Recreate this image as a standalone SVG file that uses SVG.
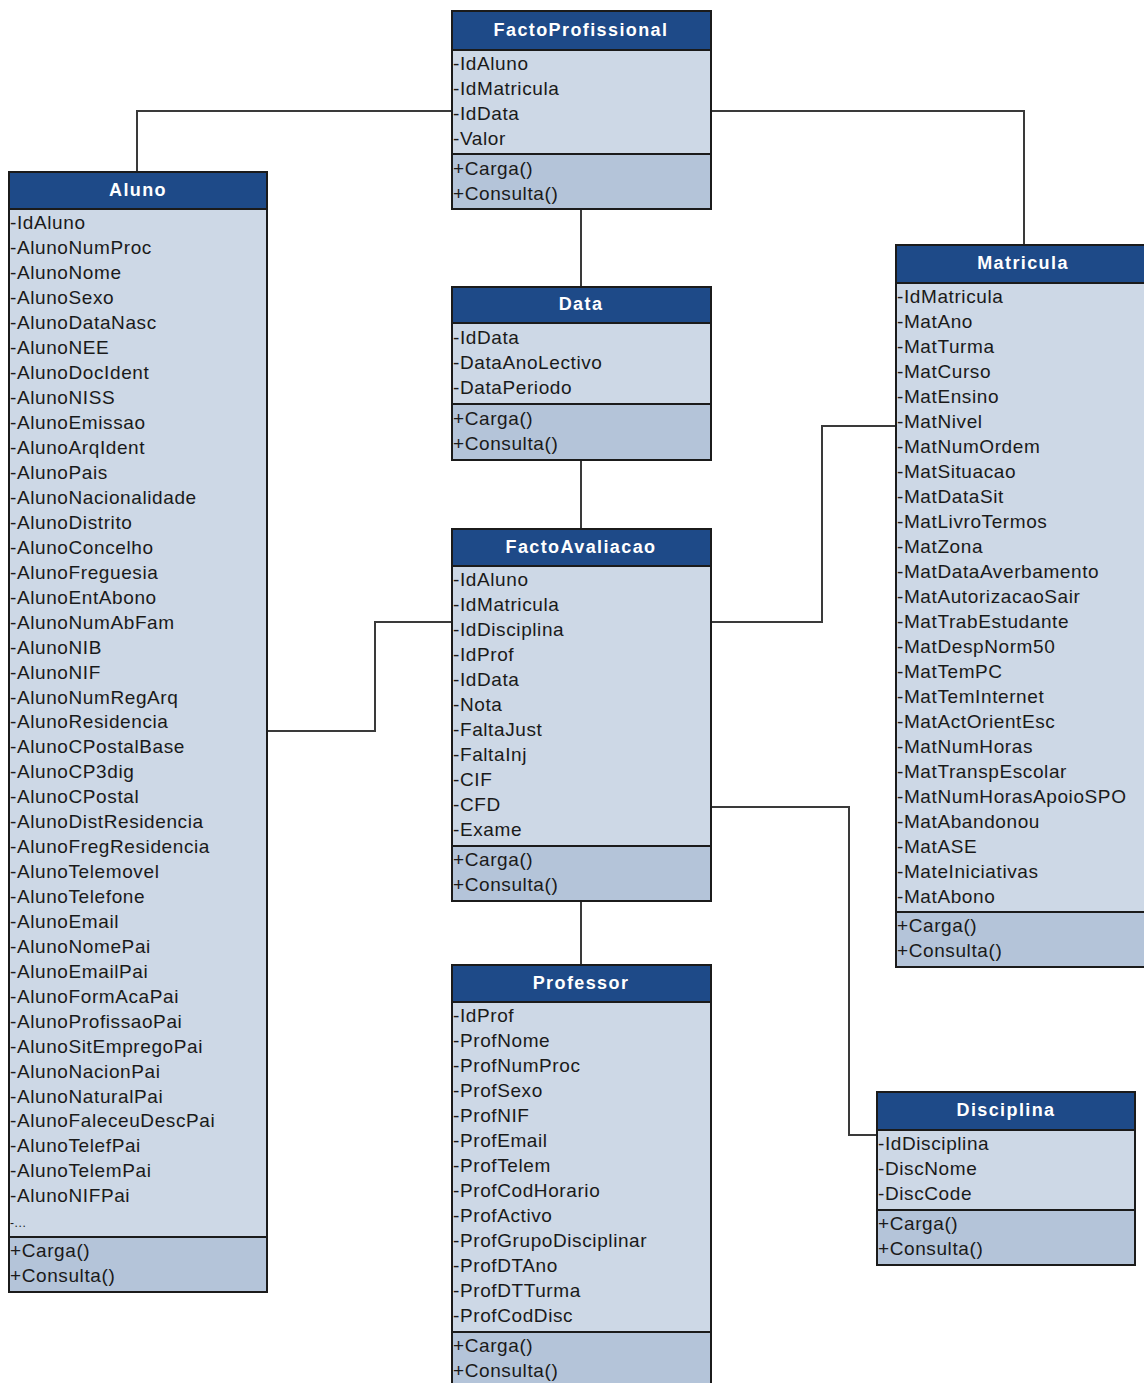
<svg xmlns="http://www.w3.org/2000/svg" width="1144" height="1383" viewBox="0 0 1144 1383">
<style>
  .hdr { fill: #1e4a88; stroke: #1b1b1b; stroke-width: 2; }
  .att { fill: #cdd8e6; stroke: #1b1b1b; stroke-width: 2; }
  .mth { fill: #b4c4d9; stroke: #1b1b1b; stroke-width: 2; }
  .ttl { font-family: "Liberation Sans", Arial, sans-serif; font-size: 18px; font-weight: bold; fill: #ffffff; text-anchor: middle; letter-spacing: 1.4px; }
  .row { font-family: "Liberation Sans", Arial, sans-serif; font-size: 19px; fill: #1a1a1a; letter-spacing: 0.6px; }
  .wire { fill: none; stroke: #3a3a3a; stroke-width: 2; }
</style>
<rect width="1144" height="1383" fill="#ffffff"/>

<!-- relationship lines -->
<g id="connectors">
  <polyline class="wire" points="452,111 137,111 137,172"/>
  <polyline class="wire" points="711,111 1024,111 1024,245"/>
  <line class="wire" x1="581" y1="209" x2="581" y2="287"/>
  <line class="wire" x1="581" y1="460" x2="581" y2="529"/>
  <polyline class="wire" points="452,622 375,622 375,731 267,731"/>
  <polyline class="wire" points="711,622 822,622 822,426 896,426"/>
  <polyline class="wire" points="711,807 849,807 849,1135 877,1135"/>
  <line class="wire" x1="581" y1="901" x2="581" y2="965"/>
</g>

<!-- FactoProfissional -->
<g id="FactoProfissional">
  <rect class="att" x="452" y="50" width="259" height="104"/>
  <rect class="mth" x="452" y="154" width="259" height="55"/>
  <rect class="hdr" x="452" y="11" width="259" height="39"/>
  <text class="ttl" x="581" y="36">FactoProfissional</text>
  <text class="row" x="453" y="70">-IdAluno</text>
  <text class="row" x="453" y="95">-IdMatricula</text>
  <text class="row" x="453" y="120">-IdData</text>
  <text class="row" x="453" y="145">-Valor</text>
  <text class="row" x="453" y="175">+Carga()</text>
  <text class="row" x="453" y="200">+Consulta()</text>
</g>

<!-- Aluno -->
<g id="Aluno">
  <rect class="att" x="9" y="209" width="258" height="1028"/>
  <rect class="mth" x="9" y="1237" width="258" height="55"/>
  <rect class="hdr" x="9" y="172" width="258" height="37"/>
  <text class="ttl" x="138" y="196">Aluno</text>
  <text class="row" x="10" y="229">-IdAluno</text>
  <text class="row" x="10" y="254">-AlunoNumProc</text>
  <text class="row" x="10" y="279">-AlunoNome</text>
  <text class="row" x="10" y="304">-AlunoSexo</text>
  <text class="row" x="10" y="329">-AlunoDataNasc</text>
  <text class="row" x="10" y="354">-AlunoNEE</text>
  <text class="row" x="10" y="379">-AlunoDocIdent</text>
  <text class="row" x="10" y="404">-AlunoNISS</text>
  <text class="row" x="10" y="429">-AlunoEmissao</text>
  <text class="row" x="10" y="454">-AlunoArqIdent</text>
  <text class="row" x="10" y="479">-AlunoPais</text>
  <text class="row" x="10" y="504">-AlunoNacionalidade</text>
  <text class="row" x="10" y="529">-AlunoDistrito</text>
  <text class="row" x="10" y="554">-AlunoConcelho</text>
  <text class="row" x="10" y="579">-AlunoFreguesia</text>
  <text class="row" x="10" y="604">-AlunoEntAbono</text>
  <text class="row" x="10" y="629">-AlunoNumAbFam</text>
  <text class="row" x="10" y="654">-AlunoNIB</text>
  <text class="row" x="10" y="679">-AlunoNIF</text>
  <text class="row" x="10" y="704">-AlunoNumRegArq</text>
  <text class="row" x="10" y="728">-AlunoResidencia</text>
  <text class="row" x="10" y="753">-AlunoCPostalBase</text>
  <text class="row" x="10" y="778">-AlunoCP3dig</text>
  <text class="row" x="10" y="803">-AlunoCPostal</text>
  <text class="row" x="10" y="828">-AlunoDistResidencia</text>
  <text class="row" x="10" y="853">-AlunoFregResidencia</text>
  <text class="row" x="10" y="878">-AlunoTelemovel</text>
  <text class="row" x="10" y="903">-AlunoTelefone</text>
  <text class="row" x="10" y="928">-AlunoEmail</text>
  <text class="row" x="10" y="953">-AlunoNomePai</text>
  <text class="row" x="10" y="978">-AlunoEmailPai</text>
  <text class="row" x="10" y="1003">-AlunoFormAcaPai</text>
  <text class="row" x="10" y="1028">-AlunoProfissaoPai</text>
  <text class="row" x="10" y="1053">-AlunoSitEmpregoPai</text>
  <text class="row" x="10" y="1078">-AlunoNacionPai</text>
  <text class="row" x="10" y="1103">-AlunoNaturalPai</text>
  <text class="row" x="10" y="1127">-AlunoFaleceuDescPai</text>
  <text class="row" x="10" y="1152">-AlunoTelefPai</text>
  <text class="row" x="10" y="1177">-AlunoTelemPai</text>
  <text class="row" x="10" y="1202">-AlunoNIFPai</text>
  <text class="row" x="10" y="1227" style="font-size:12px">-...</text>
  <text class="row" x="10" y="1257">+Carga()</text>
  <text class="row" x="10" y="1282">+Consulta()</text>
</g>

<!-- Data -->
<g id="Data">
  <rect class="att" x="452" y="323" width="259" height="81"/>
  <rect class="mth" x="452" y="404" width="259" height="56"/>
  <rect class="hdr" x="452" y="287" width="259" height="36"/>
  <text class="ttl" x="581" y="310">Data</text>
  <text class="row" x="453" y="344">-IdData</text>
  <text class="row" x="453" y="369">-DataAnoLectivo</text>
  <text class="row" x="453" y="394">-DataPeriodo</text>
  <text class="row" x="453" y="425">+Carga()</text>
  <text class="row" x="453" y="450">+Consulta()</text>
</g>

<!-- FactoAvaliacao -->
<g id="FactoAvaliacao">
  <rect class="att" x="452" y="566" width="259" height="280"/>
  <rect class="mth" x="452" y="846" width="259" height="55"/>
  <rect class="hdr" x="452" y="529" width="259" height="37"/>
  <text class="ttl" x="581" y="553">FactoAvaliacao</text>
  <text class="row" x="453" y="586">-IdAluno</text>
  <text class="row" x="453" y="611">-IdMatricula</text>
  <text class="row" x="453" y="636">-IdDisciplina</text>
  <text class="row" x="453" y="661">-IdProf</text>
  <text class="row" x="453" y="686">-IdData</text>
  <text class="row" x="453" y="711">-Nota</text>
  <text class="row" x="453" y="736">-FaltaJust</text>
  <text class="row" x="453" y="761">-FaltaInj</text>
  <text class="row" x="453" y="786">-CIF</text>
  <text class="row" x="453" y="811">-CFD</text>
  <text class="row" x="453" y="836">-Exame</text>
  <text class="row" x="453" y="866">+Carga()</text>
  <text class="row" x="453" y="891">+Consulta()</text>
</g>

<!-- Matricula -->
<g id="Matricula">
  <rect class="att" x="896" y="283" width="256" height="629"/>
  <rect class="mth" x="896" y="912" width="256" height="55"/>
  <rect class="hdr" x="896" y="245" width="256" height="38"/>
  <text class="ttl" x="1023" y="269">Matricula</text>
  <text class="row" x="897" y="303">-IdMatricula</text>
  <text class="row" x="897" y="328">-MatAno</text>
  <text class="row" x="897" y="353">-MatTurma</text>
  <text class="row" x="897" y="378">-MatCurso</text>
  <text class="row" x="897" y="403">-MatEnsino</text>
  <text class="row" x="897" y="428">-MatNivel</text>
  <text class="row" x="897" y="453">-MatNumOrdem</text>
  <text class="row" x="897" y="478">-MatSituacao</text>
  <text class="row" x="897" y="503">-MatDataSit</text>
  <text class="row" x="897" y="528">-MatLivroTermos</text>
  <text class="row" x="897" y="553">-MatZona</text>
  <text class="row" x="897" y="578">-MatDataAverbamento</text>
  <text class="row" x="897" y="603">-MatAutorizacaoSair</text>
  <text class="row" x="897" y="628">-MatTrabEstudante</text>
  <text class="row" x="897" y="653">-MatDespNorm50</text>
  <text class="row" x="897" y="678">-MatTemPC</text>
  <text class="row" x="897" y="703">-MatTemInternet</text>
  <text class="row" x="897" y="728">-MatActOrientEsc</text>
  <text class="row" x="897" y="753">-MatNumHoras</text>
  <text class="row" x="897" y="778">-MatTranspEscolar</text>
  <text class="row" x="897" y="803">-MatNumHorasApoioSPO</text>
  <text class="row" x="897" y="828">-MatAbandonou</text>
  <text class="row" x="897" y="853">-MatASE</text>
  <text class="row" x="897" y="878">-MateIniciativas</text>
  <text class="row" x="897" y="903">-MatAbono</text>
  <text class="row" x="897" y="932">+Carga()</text>
  <text class="row" x="897" y="957">+Consulta()</text>
</g>

<!-- Professor -->
<g id="Professor">
  <rect class="att" x="452" y="1002" width="259" height="330"/>
  <rect class="mth" x="452" y="1332" width="259" height="60"/>
  <rect class="hdr" x="452" y="965" width="259" height="37"/>
  <text class="ttl" x="581" y="989">Professor</text>
  <text class="row" x="453" y="1022">-IdProf</text>
  <text class="row" x="453" y="1047">-ProfNome</text>
  <text class="row" x="453" y="1072">-ProfNumProc</text>
  <text class="row" x="453" y="1097">-ProfSexo</text>
  <text class="row" x="453" y="1122">-ProfNIF</text>
  <text class="row" x="453" y="1147">-ProfEmail</text>
  <text class="row" x="453" y="1172">-ProfTelem</text>
  <text class="row" x="453" y="1197">-ProfCodHorario</text>
  <text class="row" x="453" y="1222">-ProfActivo</text>
  <text class="row" x="453" y="1247">-ProfGrupoDisciplinar</text>
  <text class="row" x="453" y="1272">-ProfDTAno</text>
  <text class="row" x="453" y="1297">-ProfDTTurma</text>
  <text class="row" x="453" y="1322">-ProfCodDisc</text>
  <text class="row" x="453" y="1352">+Carga()</text>
  <text class="row" x="453" y="1377">+Consulta()</text>
</g>

<!-- Disciplina -->
<g id="Disciplina">
  <rect class="att" x="877" y="1130" width="258" height="80"/>
  <rect class="mth" x="877" y="1210" width="258" height="55"/>
  <rect class="hdr" x="877" y="1092" width="258" height="38"/>
  <text class="ttl" x="1006" y="1116">Disciplina</text>
  <text class="row" x="878" y="1150">-IdDisciplina</text>
  <text class="row" x="878" y="1175">-DiscNome</text>
  <text class="row" x="878" y="1200">-DiscCode</text>
  <text class="row" x="878" y="1230">+Carga()</text>
  <text class="row" x="878" y="1255">+Consulta()</text>
</g>
</svg>
